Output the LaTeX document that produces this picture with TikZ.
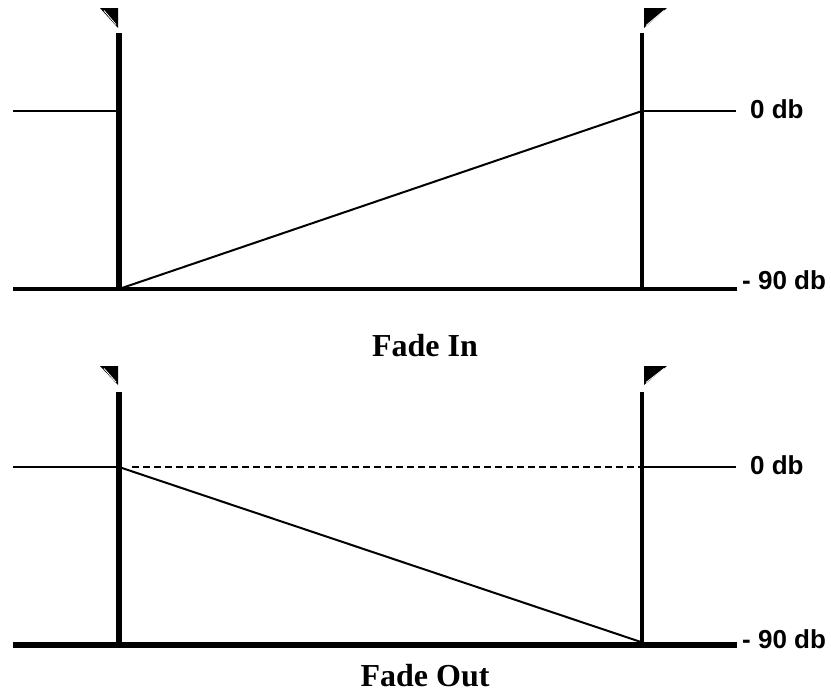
\documentclass[tikz,border=0pt]{standalone}
\usepackage{fontspec}
\setmainfont{Liberation Serif}
\newfontfamily\dbfont{Liberation Sans}
\usetikzlibrary{calc}

\tikzset{
  dblabel/.style={font=\dbfont\bfseries\fontsize{26}{30}\selectfont, anchor=base west, inner sep=0pt},
  fadetitle/.style={font=\bfseries\fontsize{32}{38}\selectfont, inner sep=0pt},
  level/.style={line width=2pt},
  cursor/.style={fill=black},
}

\begin{document}
\begin{tikzpicture}[x=1pt, y=-1pt, line cap=butt, line join=miter]
  \useasboundingbox (0,0) rectangle (831,697);

  % ---- fade in ----
  \coordinate (inTL) at (119,33);   \coordinate (inTR) at (642,33);
  \coordinate (inBL) at (119,289);  \coordinate (inBR) at (642,289);
  \coordinate (inZL) at (13,111);   \coordinate (inZR) at (736,111);
  \coordinate (inAL) at (13,289);   \coordinate (inAR) at (737,289);
  % cursors
  \fill[cursor] (100,8) -- (118,8) -- (118,28) -- cycle;
  \draw[white, line width=0.8pt] (104,10.5) -- (116,24.5);
  \fill[cursor] (644,8) -- (667,8) -- (644,28) -- cycle;
  \draw[white, line width=0.8pt] (664,10.5) -- (646,25.5);
  % markers
  \draw[line width=6pt] (inTL) -- (inBL);
  \draw[line width=3.2pt] (inTR) -- (inBR);
  % 0 db level
  \draw[level] (inZL) -- (inTL |- inZL);
  \draw[level] (inTR |- inZL) -- (inZR);
  % ramp up
  \draw[level] (inBL) -- (inTR |- inZL);
  % -90 db axis
  \draw[line width=3.3pt] (inAL) -- (inAR);
  \node[dblabel] (inZero) at (750,118) {0 db};
  \node[dblabel] (inMin) at (742,289) {- 90 db};
  \node[fadetitle] (inTitle) at (425,346) {Fade In};

  % ---- fade out ----
  \coordinate (outTL) at (119,392);  \coordinate (outTR) at (642,392);
  \coordinate (outBL) at (119,645);  \coordinate (outBR) at (642,645);
  \coordinate (outZL) at (13,467);   \coordinate (outZR) at (736,467);
  \coordinate (outAL) at (13,645);   \coordinate (outAR) at (737,645);
  % cursors
  \fill[cursor] (100,366) -- (118,366) -- (118,385) -- cycle;
  \draw[white, line width=0.8pt] (104,368.5) -- (116,382);
  \fill[cursor] (644,366) -- (667,366) -- (644,385) -- cycle;
  \draw[white, line width=0.8pt] (664,368.5) -- (646,382.5);
  % markers
  \draw[line width=6.5pt] (outTL) -- (outBL);
  \draw[line width=3.2pt] (outTR) -- (outBR);
  % 0 db level, dashed between the markers
  \draw[level] (outZL) -- (outTL |- outZL);
  \draw[level, line width=2.3pt, dash pattern=on 7pt off 4pt] ($(outTL |- outZL)+(13,0)$) -- (outTR |- outZL);
  \draw[level] (outTR |- outZL) -- (outZR);
  % ramp down
  \draw[level] (outTL |- outZL) -- ($(outBR)+(-1,-3)$);
  % -90 db axis
  \draw[line width=5.5pt] (outAL) -- (outAR);
  \node[dblabel] (outZero) at (750,474) {0 db};
  \node[dblabel] (outMin) at (742,648) {- 90 db};
  \node[fadetitle] (outTitle) at (425,676) {Fade Out};
\end{tikzpicture}
\end{document}
